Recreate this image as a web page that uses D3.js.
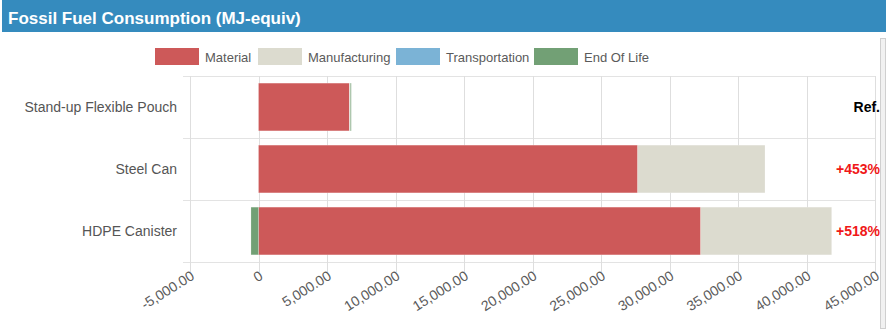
<!DOCTYPE html>
<html><head><meta charset="utf-8">
<script src="https://cdn.jsdelivr.net/npm/d3@7/dist/d3.min.js"></script>
<style>
body{margin:0;background:#fff;}
svg{display:block;font-family:"Liberation Sans",Arial,Helvetica,sans-serif;}
</style></head>
<body>
<svg id="chart" width="889" height="334"></svg>
<script>
const title = "Fossil Fuel Consumption (MJ-equiv)";
const categories = ["Stand-up Flexible Pouch", "Steel Can", "HDPE Canister"];
const seriesNames = ["Material", "Manufacturing", "Transportation", "End Of Life"];
const material = [6630, 27680, 32280];
const manufacturing = [70, 9290, 9560];
const transportation = [0, 0, 0];
const endOfLife = [70, 0, -550];
const changeLabels = ["Ref.", "+453%", "+518%"];
const tickValues = [-5000, 0, 5000, 10000, 15000, 20000, 25000, 30000, 35000, 40000, 45000];
const colors = ["#cd5959", "#dcdbcf", "#7bb3d6", "#72a075"];

(function () {
const svg = d3.select("#chart");

// title bar
svg.append("rect").attr("x", 2).attr("y", 0).attr("width", 884).attr("height", 32).attr("fill", "#358bbe");
svg.append("text").attr("x", 8).attr("y", 24).attr("fill", "#fff")
  .attr("font-size", 17).attr("font-weight", "bold").text(title);

// right scroll-like border
svg.append("rect").attr("x", 880.5).attr("y", 38.5).attr("width", 5).attr("height", 290)
  .attr("fill", "#f1f1f1").attr("stroke", "#cfcfcf");

const pLeft = 190, pRight = 875, pTop = 76, pBottom = 262;
const x = d3.scaleLinear().domain([-5000, 45000]).range([pLeft, pRight]);
const y = d3.scaleBand().domain(categories).range([pTop, pBottom]).paddingInner(0.23).paddingOuter(0.115);

// data table
const table = categories.map((c, i) => ({
  category: c,
  "Material": material[i],
  "Manufacturing": manufacturing[i],
  "Transportation": transportation[i],
  "End Of Life": endOfLife[i]
}));
const stack = d3.stack().keys(seriesNames).offset(d3.stackOffsetDiverging);
const series = stack(table);

// legend
const legendItems = [
  {name: "Material", x: 155},
  {name: "Manufacturing", x: 258},
  {name: "Transportation", x: 396},
  {name: "End Of Life", x: 534}
];
const lg = svg.append("g");
legendItems.forEach((d, i) => {
  lg.append("rect").attr("x", d.x).attr("y", 48).attr("width", 44).attr("height", 17).attr("fill", colors[i]);
  lg.append("text").attr("x", d.x + 50).attr("y", 61.5).attr("fill", "#5a5a5a").attr("font-size", 13).text(d.name);
});

// horizontal separators
const rowEdges = categories.map(c => y(c) - y.step() * y.paddingInner() / 2);
rowEdges.push(pBottom);
svg.append("g").selectAll("line").data(rowEdges).join("line")
  .attr("x1", 183).attr("x2", pRight).attr("y1", d => Math.round(d) + 0.5).attr("y2", d => Math.round(d) + 0.5)
  .attr("stroke", "#e3e3e3");

// vertical gridlines + x axis labels
const fmt = d3.format(",.2f");
const gx = svg.append("g");
gx.selectAll("line").data(tickValues).join("line")
  .attr("x1", d => Math.round(x(d)) + 0.5).attr("x2", d => Math.round(x(d)) + 0.5)
  .attr("y1", pTop).attr("y2", pBottom + 10)
  .attr("stroke", "#dedede");
gx.selectAll("text").data(tickValues).join("text")
  .attr("transform", d => `translate(${x(d) + 0},${pBottom + 8}) rotate(-32)`)
  .attr("text-anchor", "end").attr("dy", "0.71em")
  .attr("fill", "#5a5a5a").attr("font-size", 14)
  .text(d => d === 0 ? "0" : fmt(d).replace("\u2212", "-"));

// bars
svg.append("g").selectAll("g").data(series).join("g")
  .attr("fill", (d, i) => colors[i])
  .selectAll("rect").data(d => d).join("rect")
  .attr("x", d => x(Math.min(d[0], d[1])))
  .attr("width", d => Math.abs(x(d[1]) - x(d[0])))
  .attr("y", d => y(d.data.category))
  .attr("height", y.bandwidth())
  .attr("stroke", "rgba(255,255,255,0.35)").attr("stroke-width", 0.6);

// category labels
svg.append("g").selectAll("text").data(categories).join("text")
  .attr("x", 177).attr("y", d => y(d) + y.bandwidth() / 2).attr("dy", "0.35em")
  .attr("text-anchor", "end").attr("fill", "#555").attr("font-size", 14).text(d => d);

// change labels
svg.append("g").selectAll("text").data(categories).join("text")
  .attr("x", 880).attr("y", d => y(d) + y.bandwidth() / 2).attr("dy", "0.35em")
  .attr("text-anchor", "end").attr("font-weight", "bold").attr("font-size", 14)
  .attr("fill", (d, i) => i === 0 ? "#000" : "#f01818")
  .text((d, i) => changeLabels[i]);
})();
</script>
</body></html>
